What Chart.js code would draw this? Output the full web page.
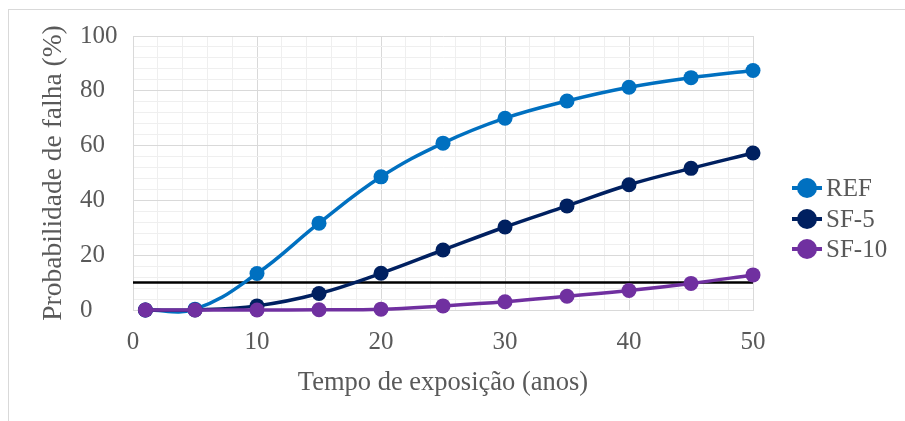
<!DOCTYPE html>
<html lang="pt">
<head>
    <meta charset="UTF-8">
    <title>Probabilidade de falha</title>
    <script src="https://cdn.jsdelivr.net/npm/chart.js@4.4.1/dist/chart.umd.min.js"></script>
    <style>
        body { margin: 0; background: #fff; overflow: hidden; }
        .frame {
            position: absolute; left: 8px; top: 9px; width: 920px; height: 440px;
            border: 1px solid #d9d9d9; box-sizing: border-box;
        }
        .chart-container { position: absolute; left: 0; top: 0; width: 905px; height: 421px; }
        .legend { position: absolute; left: 792px; top: 0; font-family: "Liberation Serif", serif; font-size: 25px; color: #595959; }
        .legend-item { position: absolute; left: 0; height: 30px; width: 120px; }
        .legend-item .ln { position: absolute; left: 0; top: 13px; width: 30px; height: 4px; }
        .legend-item .dot { position: absolute; left: 5px; top: 5px; width: 20px; height: 20px; border-radius: 50%; }
        .legend-item .tx { position: absolute; left: 34px; top: 0; line-height: 30px; white-space: nowrap; }
    </style>
</head>
<body>
    <div class="frame"></div>
    <div class="chart-container">
        <canvas id="myChart"></canvas>
    </div>
    <div class="legend" id="legend"></div>

    <script>
        // Data
        const years = [1, 5, 10, 15, 20, 25, 30, 35, 40, 45, 50];
        const ref = [0, 0.3, 13.3, 31.7, 48.6, 60.9, 70.0, 76.3, 81.3, 84.8, 87.4];
        const sf5 = [0, 0, 1.5, 6.0, 13.4, 21.9, 30.3, 38.0, 45.7, 51.7, 57.3];
        const sf10 = [0, 0, 0, 0.1, 0.3, 1.5, 3.0, 5.0, 7.1, 9.7, 12.8];
        const limitX = [0, 50];
        const limitY = [10, 10];

        const seriesNames = ['REF', 'SF-5', 'SF-10'];
        const seriesColors = ['#0070C0', '#002060', '#7030A0'];
        const seriesValues = [ref, sf5, sf10];

        const textColor = '#595959';
        const fontFamily = '"Liberation Serif", "Times New Roman", serif';

        const toPoints = (xs, ys) => xs.map((x, i) => ({ x: x, y: ys[i] }));

        const datasets = seriesNames.map((name, i) => ({
            label: name,
            data: toPoints(years, seriesValues[i]),
            borderColor: seriesColors[i],
            backgroundColor: seriesColors[i],
            borderWidth: 3.5,
            pointRadius: 7.5,
            pointBorderWidth: 0,
            tension: 0.4,
            clip: false,
            order: 3 - i
        }));

        // 10% limit line
        datasets.push({
            label: 'limite',
            data: toPoints(limitX, limitY),
            borderColor: '#000000',
            borderWidth: 2.5,
            pointRadius: 0,
            tension: 0,
            clip: false,
            order: 4
        });

        // HTML legend
        const legendEl = document.getElementById('legend');
        const legendRows = [173, 204, 234];
        seriesNames.forEach((name, i) => {
            const item = document.createElement('div');
            item.className = 'legend-item';
            item.style.top = legendRows[i] + 'px';
            item.innerHTML = '<div class="ln" style="background:' + seriesColors[i] + '"></div>' +
                '<div class="dot" style="background:' + seriesColors[i] + '"></div>' +
                '<div class="tx">' + name + '</div>';
            legendEl.appendChild(item);
        });

        const gridColor = (ctx, step) => (ctx.tick && Math.round(ctx.tick.value) % step === 0) ? '#d9d9d9' : '#efefef';

        const ctx = document.getElementById('myChart').getContext('2d');
        new Chart(ctx, {
            type: 'line',
            data: { datasets: datasets },
            options: {
                responsive: true,
                maintainAspectRatio: false,
                animation: false,
                layout: { padding: { left: 80, top: 36, right: 152, bottom: 0 } },
                elements: { line: { capBezierPoints: false } },
                plugins: {
                    legend: { display: false },
                    tooltip: { enabled: false }
                },
                scales: {
                    x: {
                        type: 'linear',
                        min: 0,
                        max: 50,
                        afterFit: (scale) => { scale.height = 111; },
                        grid: { color: (c) => gridColor(c, 10), drawTicks: false },
                        border: { color: '#d9d9d9' },
                        ticks: {
                            stepSize: 2,
                            autoSkip: false,
                            maxTicksLimit: 100,
                            maxRotation: 0,
                            padding: 17,
                            color: textColor,
                            font: { family: fontFamily, size: 25 },
                            callback: (v) => (v % 10 === 0 ? String(v) : '')
                        },
                        title: {
                            display: true,
                            text: 'Tempo de exposição (anos)',
                            color: textColor,
                            font: { family: fontFamily, size: 26.5 },
                            padding: { top: 0, bottom: 22 }
                        }
                    },
                    y: {
                        min: 0,
                        max: 100,
                        afterFit: (scale) => { scale.width = 53; },
                        grid: { color: (c) => gridColor(c, 20), drawTicks: false },
                        border: { color: '#d9d9d9' },
                        ticks: {
                            stepSize: 4,
                            autoSkip: false,
                            maxTicksLimit: 100,
                            crossAlign: 'far',
                            padding: 14,
                            color: textColor,
                            font: { family: fontFamily, size: 25 },
                            callback: (v) => (v % 20 === 0 ? String(v) : '')
                        },
                        title: {
                            display: true,
                            text: 'Probabilidade de falha (%)',
                            color: textColor,
                            font: { family: fontFamily, size: 27.5 },
                            padding: { top: -43, bottom: 0 }
                        }
                    }
                }
            }
        });
    </script>
</body>
</html>
